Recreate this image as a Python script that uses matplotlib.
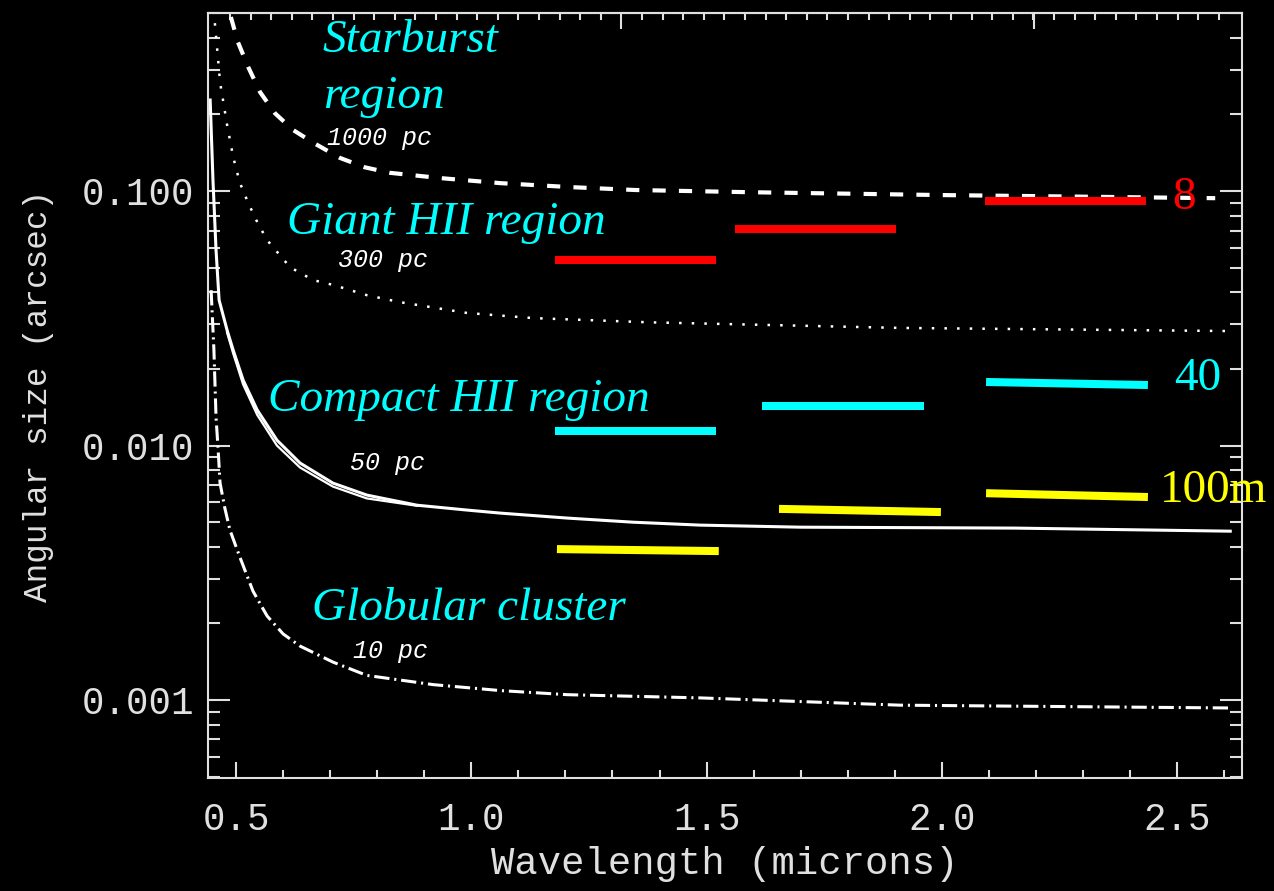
import numpy as np
import matplotlib
matplotlib.use("Agg")
import matplotlib.pyplot as plt
from matplotlib.ticker import MultipleLocator, FixedLocator, LogLocator, NullFormatter, FuncFormatter

plt.rcParams["lines.scale_dashes"] = False

# curves: angular size (arcsec) vs wavelength (microns)
lam_1000 = [0.489, 0.504, 0.526, 0.551, 0.583, 0.621, 0.664, 0.721, 0.774, 0.827,
            0.934, 1.061, 1.210, 1.348, 1.592, 1.996, 2.581]
size_1000 = [0.483, 0.385, 0.307, 0.245, 0.202, 0.174, 0.155, 0.135, 0.124, 0.118,
             0.1125, 0.1075, 0.1037, 0.101, 0.099, 0.0965, 0.0938]

lam_300 = [0.455, 0.462, 0.466, 0.481, 0.494, 0.508, 0.526, 0.545, 0.566, 0.615,
           0.664, 0.706, 0.778, 0.849, 0.991, 1.131, 1.380, 1.911, 2.602]
size_300 = [0.457, 0.327, 0.268, 0.182, 0.136, 0.108, 0.0897, 0.0756, 0.0642, 0.0502,
            0.0447, 0.0428, 0.039, 0.0366, 0.0332, 0.0317, 0.0305, 0.0290, 0.0282]

lam_50 = [0.445, 0.451, 0.4575, 0.464, 0.481, 0.494, 0.515, 0.545, 0.587, 0.636,
          0.706, 0.778, 0.885, 0.991, 1.061, 1.204, 1.344, 1.486, 1.699, 2.156, 2.613]
size_50 = [0.228, 0.110, 0.0586, 0.0373, 0.0284, 0.0237, 0.0181, 0.0138, 0.0105, 0.00854,
           0.00712, 0.00639, 0.00583, 0.00558, 0.00543, 0.00519, 0.00500, 0.00487, 0.00478,
           0.00474, 0.00461]
lam_50b = [0.481, 0.494, 0.515, 0.545, 0.587, 0.636, 0.706, 0.778, 0.885]
size_50b = [0.0278, 0.0230, 0.0174, 0.0132, 0.0100, 0.0082, 0.0069, 0.0062, 0.0058]

lam_10 = [0.447, 0.453, 0.4575, 0.462, 0.466, 0.476, 0.487, 0.508, 0.536, 0.566, 0.600,
          0.636, 0.706, 0.778, 0.919, 1.061, 1.204, 1.486, 1.911, 2.613]
size_10 = [0.0408, 0.0237, 0.0129, 0.0096, 0.00713, 0.0057, 0.00466, 0.00365, 0.00268,
           0.00214, 0.00182, 0.00163, 0.00141, 0.00125, 0.00115, 0.00109, 0.00105, 0.00102,
           0.000955, 0.000931]

# resolution bars in three bands
red_x0 = [1.178, 1.561, 2.092]
red_x1 = [1.520, 1.903, 2.434]
red_y0 = [0.0538, 0.0710, 0.0913]
red_y1 = [0.0538, 0.0710, 0.0913]

cyan_x0 = [1.178, 1.618, 2.094]
cyan_x1 = [1.520, 1.962, 2.438]
cyan_y0 = [0.01146, 0.01429, 0.01778]
cyan_y1 = [0.01146, 0.01429, 0.0173]

yellow_x0 = [1.182, 1.654, 2.094]
yellow_x1 = [1.526, 1.998, 2.438]
yellow_y0 = [0.00392, 0.00564, 0.0065]
yellow_y1 = [0.00385, 0.00548, 0.00628]

top_major = [1.319, 2.195]

MONO = ["Liberation Mono", "DejaVu Sans Mono"]
SERIF = ["Liberation Serif", "DejaVu Serif"]
FG = "#e0e0e0"

fig = plt.figure(figsize=(12.74, 8.91), dpi=100, facecolor="black")
ax = fig.add_axes([0.1633, 0.1268, 0.8116, 0.8586])
ax.set_facecolor("black")
ax.set_yscale("log")
ax.set_xlim(0.4405, 2.638)
ax.set_ylim(0.000494, 0.501)

ax.plot(lam_1000, size_1000, color="white", lw=3.0, dashes=(9.5, 9.5))
ax.plot(lam_300, size_300, color="white", lw=1.8, dashes=(1.8, 7.3))
ax.plot(lam_50, size_50, color="white", lw=2.2)
ax.plot(lam_50b, size_50b, color="white", lw=1.6)
ax.plot(lam_10, size_10, color="white", lw=2.2, dashes=(11, 3.5, 1.5, 3.5))

for x0, x1, y0, y1 in zip(red_x0, red_x1, red_y0, red_y1):
    ax.plot([x0, x1], [y0, y1], color="#ff0000", lw=5.8, solid_capstyle="butt")
for x0, x1, y0, y1 in zip(cyan_x0, cyan_x1, cyan_y0, cyan_y1):
    ax.plot([x0, x1], [y0, y1], color="#00ffff", lw=5.8, solid_capstyle="butt")
for x0, x1, y0, y1 in zip(yellow_x0, yellow_x1, yellow_y0, yellow_y1):
    ax.plot([x0, x1], [y0, y1], color="#ffff00", lw=5.8, solid_capstyle="butt")

# region names
cyan_kw = dict(color="#00ffff", family=SERIF, style="italic", fontsize=34,
               ha="left", va="baseline")
ax.text(0.683, 0.352, "Starburst", **cyan_kw)
ax.text(0.685, 0.212, "region", **cyan_kw)
ax.text(0.608, 0.0678, "Giant HII region", **cyan_kw)
ax.text(0.568, 0.01368, "Compact HII region", **cyan_kw)
ax.text(0.6615, 0.00206, "Globular cluster", **cyan_kw)

num_kw = dict(family=SERIF, fontsize=34, ha="left", va="baseline", clip_on=False, zorder=5)
ax.text(2.489, 0.0850, "8", color="#ff0000", **num_kw)
ax.text(2.494, 0.01652, "40", color="#00ffff", **num_kw)
ax.text(2.464, 0.0060, "100m", color="#ffff00", **num_kw)

pc_kw = dict(color="white", family=MONO, style="italic", fontsize=18,
             ha="left", va="baseline")
ax.text(0.693, 0.1517, "1000 pc", **pc_kw)
ax.text(0.717, 0.0503, "300 pc", **pc_kw)
ax.text(0.742, 0.00802, "50 pc", **pc_kw)
ax.text(0.749, 0.00146, "10 pc", **pc_kw)

# axes styling
for sp in ax.spines.values():
    sp.set_color(FG)
    sp.set_linewidth(1.5)

ax.xaxis.set_major_locator(MultipleLocator(0.5))
ax.xaxis.set_minor_locator(MultipleLocator(0.1))
ax.xaxis.set_major_formatter(FuncFormatter(lambda v, p: f"{v:.1f}"))
ax.yaxis.set_major_locator(LogLocator(base=10))
ax.yaxis.set_minor_locator(LogLocator(base=10, subs=np.arange(2, 10)))
ax.yaxis.set_major_formatter(FuncFormatter(lambda v, p: f"{v:.3f}"))
ax.yaxis.set_minor_formatter(NullFormatter())

ax.tick_params(axis="x", which="both", direction="in", top=False, bottom=True,
               colors=FG, width=1.5, labelsize=27, pad=17)
ax.tick_params(axis="x", which="major", length=11.5)
ax.tick_params(axis="x", which="minor", length=5.8)
ax.tick_params(axis="y", which="both", direction="in", left=True, right=True,
               colors=FG, width=1.5, labelsize=27, pad=10)
ax.tick_params(axis="y", which="major", length=16)
ax.tick_params(axis="y", which="minor", length=8.6)
for lab in ax.get_xticklabels() + ax.get_yticklabels():
    lab.set_family(MONO)

sec = ax.secondary_xaxis("top")
sec.xaxis.set_major_locator(FixedLocator(top_major))
sec.xaxis.set_minor_locator(FixedLocator(np.arange(0.4872, 2.63, 0.04378)))
sec.xaxis.set_major_formatter(NullFormatter())
sec.tick_params(which="both", direction="in", colors=FG, width=1.5)
sec.tick_params(which="major", length=11.5)
sec.tick_params(which="minor", length=5)
sec.spines["top"].set_color(FG)
sec.spines["top"].set_linewidth(1.5)

ax.set_xlabel("Wavelength (microns)", family=MONO, fontsize=28, color=FG, labelpad=6)
ax.set_ylabel("Angular size (arcsec)", family=MONO, fontsize=23.5, color=FG, labelpad=20)

fig.savefig("out.png", dpi=100, facecolor="black")
